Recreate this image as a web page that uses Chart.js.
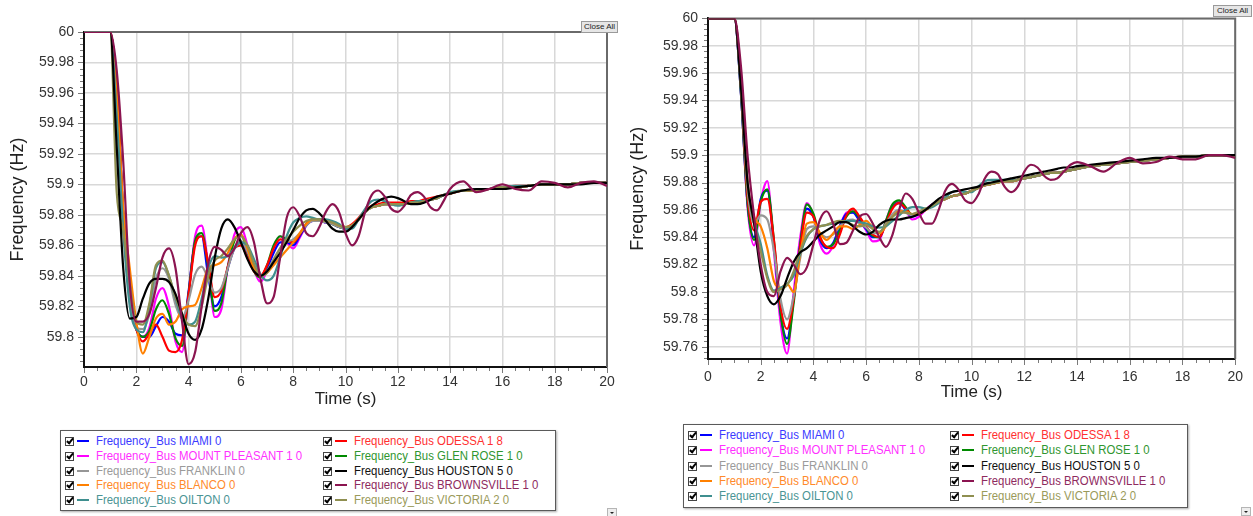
<!DOCTYPE html>
<html>
<head>
<meta charset="utf-8">
<title>Frequency_Bus</title>
<script src="https://cdn.jsdelivr.net/npm/chart.js@4.4.1/dist/chart.umd.min.js"></script>
<style>
    body { margin: 0; background: #fff; width: 1253px; height: 516px; overflow: hidden; position: relative; font-family: "Liberation Sans", Arial, sans-serif; }
    canvas { position: absolute; top: 0; }
    #leftChart { left: 0; }
    #rightChart { left: 625px; }
    .closeBtn { position: absolute; height: 10px; line-height: 10px; font-size: 8px; color: #222; background: #e6e6e6; border: 1px solid #9a9a9a; text-align: center; }
    .legend { position: absolute; border: 1px solid #5a5a5a; box-shadow: 1px 1px 2px #aaa; background: #fff; }
    .item { position: absolute; height: 14px; width: 250px; }
    .cb { position: absolute; left: 0; top: 3px; width: 7px; height: 7px; border: 1px solid #444; background: #fff; }
    .cb::after { content: ''; position: absolute; left: 2px; top: -1px; width: 2px; height: 5px; border: solid #000; border-width: 0 2px 2px 0; transform: rotate(40deg); }
    .sw { position: absolute; left: 12px; top: 6px; width: 12px; height: 2px; }
    .tx { position: absolute; left: 31px; top: 0; font-size: 12px; line-height: 14px; white-space: nowrap; transform: scaleX(0.95); transform-origin: left center; }
    .arrow { position: absolute; width: 8px; height: 7px; border: 1px solid #b5b5b5; background: #eee; }
    .arrow::after { content: ''; position: absolute; left: 2px; top: 3px; border-left: 2px solid transparent; border-right: 2px solid transparent; border-top: 2px solid #222; }
</style>
</head>
<body>
<canvas id="leftChart" width="625" height="420"></canvas>
<canvas id="rightChart" width="628" height="420"></canvas>
<div class="closeBtn" style="left:581px; top:21px; width:35px;">Close All</div>
<div class="closeBtn" style="left:1213px; top:5px; width:37px;">Close All</div>
<div class="legend" id="leftLegend" style="left:60px; top:430px; width:494px; height:79px;"></div>
<div class="legend" id="rightLegend" style="left:683px; top:424px; width:503px; height:82px;"></div>
<div class="arrow" style="left:607px; top:508px;"></div>
<div class="arrow" style="left:1241px; top:507px;"></div>

<script>
// time axis (s)
const timeS = [0, 0.75, 1, 1.25, 1.5, 1.75, 2, 2.25, 2.5, 2.75,
    3, 3.25, 3.5, 3.75, 4, 4.25, 4.5, 4.75, 5, 5.25, 5.5, 5.75, 6, 6.25, 6.5, 6.75, 7, 7.25, 7.5, 7.75,
    8, 8.25, 8.5, 8.75, 9, 9.25, 9.5, 9.75, 10, 10.25, 10.5, 10.75, 11, 11.25, 11.5, 11.75, 12, 12.25, 12.5, 12.75, 13, 13.25, 13.5, 13.75,
    14, 14.5, 15, 15.5, 16, 16.5, 17, 17.5, 18, 18.5, 19, 19.5, 20];

const xTicks = [0, 2, 4, 6, 8, 10, 12, 14, 16, 18, 20];
const yTicksLeft = [59.8, 59.82, 59.84, 59.86, 59.88, 59.9, 59.92, 59.94, 59.96, 59.98, 60];
const yTicksRight = [59.76, 59.78, 59.8, 59.82, 59.84, 59.86, 59.88, 59.9, 59.92, 59.94, 59.96, 59.98, 60];

const busNames = ['Frequency_Bus MIAMI 0', 'Frequency_Bus MOUNT PLEASANT 1 0', 'Frequency_Bus FRANKLIN 0',
    'Frequency_Bus BLANCO 0', 'Frequency_Bus OILTON 0', 'Frequency_Bus ODESSA 1 8', 'Frequency_Bus GLEN ROSE 1 0',
    'Frequency_Bus HOUSTON 5 0', 'Frequency_Bus BROWNSVILLE 1 0', 'Frequency_Bus VICTORIA 2 0'];

// ---- left case (Hz)
const leftMiami = [60, 60, 60, 59.965, 59.88, 59.825, 59.805, 59.8, 59.8, 59.807,
    59.813, 59.81, 59.802, 59.801, 59.83, 59.862, 59.866, 59.84, 59.82, 59.826, 59.845, 59.858, 59.862, 59.855, 59.844, 59.84, 59.845, 59.855, 59.862, 59.862,
    59.86, 59.866, 59.873, 59.876, 59.876, 59.875, 59.874, 59.872, 59.871, 59.873, 59.877, 59.882, 59.885, 59.886, 59.887, 59.887, 59.887, 59.887, 59.888, 59.888, 59.889, 59.89, 59.891, 59.893,
    59.894, 59.896, 59.896, 59.897, 59.898, 59.898, 59.899, 59.9, 59.9, 59.9, 59.901, 59.901, 59.901];
const leftMountPleasant = [60, 60, 60, 59.965, 59.88, 59.825, 59.805, 59.8, 59.806, 59.825,
    59.832, 59.82, 59.797, 59.79, 59.828, 59.866, 59.873, 59.847, 59.813, 59.818, 59.846, 59.867, 59.872, 59.86, 59.844, 59.836, 59.844, 59.859, 59.866, 59.862,
    59.858, 59.865, 59.873, 59.876, 59.876, 59.875, 59.874, 59.872, 59.871, 59.873, 59.877, 59.882, 59.885, 59.886, 59.887, 59.887, 59.887, 59.887, 59.888, 59.888, 59.889, 59.89, 59.891, 59.893,
    59.894, 59.896, 59.896, 59.897, 59.898, 59.898, 59.899, 59.9, 59.9, 59.9, 59.901, 59.901, 59.901];
const leftFranklin = [60, 60, 60, 59.955, 59.875, 59.825, 59.806, 59.805, 59.815, 59.838,
    59.845, 59.838, 59.821, 59.812, 59.824, 59.841, 59.846, 59.838, 59.829, 59.832, 59.845, 59.858, 59.863, 59.856, 59.846, 59.84, 59.843, 59.851, 59.858, 59.862,
    59.864, 59.868, 59.873, 59.876, 59.876, 59.875, 59.874, 59.872, 59.871, 59.873, 59.877, 59.882, 59.885, 59.886, 59.887, 59.887, 59.887, 59.887, 59.888, 59.888, 59.889, 59.89, 59.891, 59.893,
    59.894, 59.896, 59.896, 59.897, 59.898, 59.898, 59.899, 59.9, 59.9, 59.9, 59.901, 59.901, 59.901];
const leftBlanco = [60, 60, 60, 59.96, 59.885, 59.845, 59.81, 59.789, 59.8, 59.812,
    59.815, 59.808, 59.81, 59.818, 59.82, 59.821, 59.832, 59.845, 59.847, 59.849, 59.855, 59.864, 59.867, 59.858, 59.845, 59.84, 59.842, 59.847, 59.852, 59.857,
    59.862, 59.868, 59.874, 59.877, 59.877, 59.876, 59.875, 59.873, 59.872, 59.873, 59.877, 59.882, 59.885, 59.886, 59.887, 59.887, 59.887, 59.887, 59.888, 59.888, 59.889, 59.89, 59.891, 59.893,
    59.894, 59.896, 59.896, 59.897, 59.898, 59.898, 59.899, 59.9, 59.9, 59.9, 59.901, 59.901, 59.901];
const leftOilton = [60, 60, 60, 59.945, 59.87, 59.82, 59.805, 59.803, 59.82, 59.845,
    59.849, 59.84, 59.825, 59.812, 59.808, 59.81, 59.825, 59.845, 59.853, 59.852, 59.853, 59.858, 59.862, 59.86, 59.851, 59.841, 59.837, 59.84, 59.852, 59.866,
    59.875, 59.878, 59.879, 59.878, 59.877, 59.877, 59.876, 59.874, 59.871, 59.871, 59.877, 59.884, 59.889, 59.89, 59.889, 59.887, 59.886, 59.887, 59.888, 59.889, 59.889, 59.89, 59.891, 59.893,
    59.895, 59.896, 59.897, 59.897, 59.898, 59.899, 59.899, 59.9, 59.9, 59.9, 59.901, 59.901, 59.901];
const leftOdessa = [60, 60, 60, 59.965, 59.88, 59.825, 59.805, 59.797, 59.802, 59.808,
    59.8, 59.791, 59.79, 59.798, 59.828, 59.86, 59.866, 59.848, 59.826, 59.83, 59.846, 59.858, 59.86, 59.852, 59.843, 59.84, 59.847, 59.858, 59.864, 59.863,
    59.862, 59.867, 59.874, 59.877, 59.877, 59.876, 59.875, 59.873, 59.872, 59.874, 59.878, 59.883, 59.886, 59.887, 59.888, 59.888, 59.888, 59.888, 59.889, 59.889, 59.89, 59.891, 59.892, 59.893,
    59.894, 59.896, 59.897, 59.897, 59.898, 59.899, 59.899, 59.9, 59.9, 59.9, 59.901, 59.901, 59.901];
const leftGlenRose = [60, 60, 60, 59.965, 59.88, 59.825, 59.805, 59.8, 59.804, 59.818,
    59.824, 59.815, 59.799, 59.794, 59.828, 59.863, 59.868, 59.846, 59.817, 59.822, 59.846, 59.863, 59.867, 59.856, 59.843, 59.839, 59.847, 59.86, 59.866, 59.864,
    59.862, 59.867, 59.874, 59.877, 59.877, 59.876, 59.874, 59.872, 59.871, 59.873, 59.877, 59.882, 59.885, 59.886, 59.887, 59.887, 59.887, 59.887, 59.888, 59.888, 59.889, 59.89, 59.891, 59.893,
    59.894, 59.896, 59.896, 59.897, 59.898, 59.898, 59.899, 59.9, 59.9, 59.9, 59.901, 59.901, 59.901];
const leftHouston = [60, 60, 60, 59.925, 59.845, 59.812, 59.813, 59.825, 59.835, 59.838,
    59.838, 59.836, 59.828, 59.815, 59.802, 59.798, 59.805, 59.825, 59.852, 59.871, 59.877, 59.872, 59.862, 59.851, 59.843, 59.84, 59.843, 59.849, 59.855, 59.862,
    59.87, 59.878, 59.883, 59.884, 59.881, 59.876, 59.871, 59.869, 59.869, 59.872, 59.877, 59.882, 59.886, 59.889, 59.891, 59.892, 59.891, 59.889, 59.887, 59.887, 59.888, 59.89, 59.892, 59.893,
    59.894, 59.896, 59.897, 59.897, 59.897, 59.898, 59.899, 59.9, 59.9, 59.9, 59.9, 59.901, 59.901];
const leftBrownsville = [60, 60, 60, 59.975, 59.915, 59.835, 59.81, 59.81, 59.815, 59.832,
    59.852, 59.858, 59.845, 59.81, 59.782, 59.79, 59.82, 59.848, 59.859, 59.857, 59.853, 59.858, 59.868, 59.872, 59.862, 59.838, 59.822, 59.826, 59.852, 59.878,
    59.885, 59.879, 59.868, 59.866, 59.872, 59.882, 59.887, 59.882, 59.868, 59.86, 59.866, 59.882, 59.893, 59.896, 59.892, 59.884, 59.882, 59.886, 59.893, 59.895, 59.892, 59.885, 59.883, 59.889,
    59.897, 59.902, 59.895, 59.897, 59.9, 59.897, 59.896, 59.902, 59.901, 59.898, 59.901, 59.902, 59.899];
const leftVictoria = [60, 60, 60, 59.895, 59.87, 59.835, 59.81, 59.808, 59.822, 59.847,
    59.85, 59.84, 59.826, 59.815, 59.808, 59.807, 59.82, 59.84, 59.85, 59.853, 59.858, 59.864, 59.866, 59.86, 59.848, 59.84, 59.842, 59.85, 59.858, 59.864,
    59.869, 59.873, 59.876, 59.877, 59.877, 59.876, 59.875, 59.873, 59.872, 59.873, 59.877, 59.882, 59.885, 59.886, 59.887, 59.887, 59.887, 59.887, 59.888, 59.888, 59.889, 59.89, 59.891, 59.893,
    59.894, 59.896, 59.896, 59.897, 59.898, 59.898, 59.899, 59.9, 59.9, 59.9, 59.901, 59.901, 59.901];

// ---- right case (Hz)
const rightMiami = [60, 60, 60, 59.945, 59.865, 59.84, 59.868, 59.874, 59.835, 59.785,
    59.766, 59.795, 59.835, 59.861, 59.855, 59.838, 59.832, 59.836, 59.848, 59.857, 59.858, 59.852, 59.846, 59.84, 59.84, 59.851, 59.862, 59.865, 59.86, 59.855,
    59.857, 59.86, 59.863, 59.866, 59.868, 59.87, 59.871, 59.872, 59.874, 59.876, 59.878, 59.879, 59.88, 59.881, 59.881, 59.882, 59.883, 59.884, 59.885, 59.886, 59.887, 59.887, 59.888, 59.889,
    59.89, 59.892, 59.893, 59.894, 59.895, 59.896, 59.897, 59.898, 59.899, 59.899, 59.9, 59.9, 59.899];
const rightMountPleasant = [60, 60, 60, 59.945, 59.862, 59.834, 59.866, 59.881, 59.83, 59.778,
    59.755, 59.8, 59.84, 59.865, 59.856, 59.835, 59.828, 59.834, 59.848, 59.858, 59.859, 59.852, 59.845, 59.837, 59.838, 59.852, 59.864, 59.866, 59.86, 59.853,
    59.855, 59.86, 59.864, 59.866, 59.868, 59.87, 59.871, 59.872, 59.874, 59.876, 59.878, 59.879, 59.88, 59.881, 59.881, 59.882, 59.883, 59.884, 59.885, 59.886, 59.887, 59.887, 59.888, 59.889,
    59.89, 59.892, 59.893, 59.894, 59.895, 59.896, 59.897, 59.898, 59.899, 59.899, 59.9, 59.9, 59.899];
const rightFranklin = [60, 60, 60, 59.95, 59.875, 59.85, 59.856, 59.853, 59.83, 59.795,
    59.78, 59.797, 59.825, 59.846, 59.848, 59.843, 59.84, 59.842, 59.848, 59.852, 59.853, 59.85, 59.847, 59.843, 59.843, 59.85, 59.857, 59.86, 59.858, 59.856,
    59.858, 59.86, 59.863, 59.866, 59.868, 59.87, 59.871, 59.872, 59.874, 59.876, 59.878, 59.879, 59.88, 59.881, 59.881, 59.882, 59.883, 59.884, 59.885, 59.886, 59.887, 59.887, 59.888, 59.889,
    59.89, 59.892, 59.893, 59.894, 59.895, 59.896, 59.897, 59.898, 59.899, 59.899, 59.9, 59.9, 59.899];
const rightBlanco = [60, 60, 60, 59.955, 59.88, 59.855, 59.848, 59.832, 59.808, 59.803,
    59.806, 59.8, 59.828, 59.85, 59.851, 59.843, 59.838, 59.843, 59.848, 59.848, 59.846, 59.849, 59.852, 59.847, 59.843, 59.848, 59.855, 59.859, 59.859, 59.857,
    59.858, 59.86, 59.863, 59.866, 59.868, 59.87, 59.871, 59.872, 59.874, 59.876, 59.878, 59.879, 59.88, 59.881, 59.881, 59.882, 59.883, 59.884, 59.885, 59.886, 59.887, 59.887, 59.888, 59.889,
    59.89, 59.892, 59.893, 59.894, 59.895, 59.896, 59.897, 59.898, 59.899, 59.899, 59.9, 59.9, 59.899];
const rightOilton = [60, 60, 60, 59.955, 59.88, 59.852, 59.835, 59.812, 59.801, 59.803,
    59.806, 59.812, 59.828, 59.84, 59.846, 59.848, 59.849, 59.85, 59.851, 59.852, 59.852, 59.851, 59.85, 59.848, 59.847, 59.848, 59.852, 59.856, 59.86, 59.862,
    59.862, 59.861, 59.862, 59.865, 59.869, 59.873, 59.874, 59.873, 59.873, 59.877, 59.881, 59.882, 59.882, 59.882, 59.882, 59.882, 59.883, 59.884, 59.885, 59.886, 59.887, 59.887, 59.888, 59.889,
    59.89, 59.892, 59.893, 59.894, 59.895, 59.896, 59.897, 59.898, 59.899, 59.899, 59.9, 59.9, 59.899];
const rightOdessa = [60, 60, 60, 59.95, 59.87, 59.845, 59.866, 59.868, 59.838, 59.79,
    59.773, 59.795, 59.833, 59.858, 59.855, 59.84, 59.833, 59.832, 59.842, 59.856, 59.861, 59.855, 59.848, 59.842, 59.84, 59.85, 59.861, 59.865, 59.861, 59.856,
    59.857, 59.86, 59.863, 59.866, 59.868, 59.87, 59.871, 59.872, 59.874, 59.876, 59.878, 59.879, 59.88, 59.881, 59.881, 59.882, 59.883, 59.884, 59.885, 59.886, 59.887, 59.887, 59.888, 59.889,
    59.89, 59.892, 59.893, 59.894, 59.895, 59.896, 59.897, 59.898, 59.899, 59.899, 59.9, 59.9, 59.899];
const rightGlenRose = [60, 60, 60, 59.945, 59.865, 59.838, 59.866, 59.875, 59.838, 59.785,
    59.762, 59.792, 59.835, 59.864, 59.857, 59.84, 59.833, 59.835, 59.845, 59.855, 59.859, 59.854, 59.847, 59.841, 59.84, 59.852, 59.864, 59.867, 59.862, 59.856,
    59.857, 59.86, 59.863, 59.866, 59.868, 59.87, 59.871, 59.872, 59.874, 59.876, 59.878, 59.879, 59.88, 59.881, 59.881, 59.882, 59.883, 59.884, 59.885, 59.886, 59.887, 59.887, 59.888, 59.889,
    59.89, 59.892, 59.893, 59.894, 59.895, 59.896, 59.897, 59.898, 59.899, 59.899, 59.9, 59.9, 59.899];
const rightHouston = [60, 60, 60, 59.95, 59.88, 59.85, 59.815, 59.797, 59.791, 59.797,
    59.81, 59.822, 59.829, 59.832, 59.837, 59.842, 59.845, 59.848, 59.851, 59.851, 59.848, 59.844, 59.842, 59.844, 59.849, 59.852, 59.853, 59.853, 59.854, 59.855,
    59.857, 59.86, 59.864, 59.868, 59.871, 59.873, 59.874, 59.875, 59.876, 59.877, 59.879, 59.88, 59.881, 59.882, 59.883, 59.884, 59.885, 59.886, 59.887, 59.888, 59.889, 59.89, 59.891, 59.891,
    59.892, 59.893, 59.894, 59.895, 59.896, 59.897, 59.898, 59.898, 59.899, 59.899, 59.9, 59.9, 59.9];
const rightBrownsville = [60, 60, 60, 59.965, 59.9, 59.855, 59.82, 59.8, 59.797, 59.815,
    59.825, 59.82, 59.813, 59.818, 59.835, 59.853, 59.859, 59.85, 59.835, 59.836, 59.845, 59.855, 59.857, 59.85, 59.84, 59.833, 59.842, 59.86, 59.872, 59.868,
    59.858, 59.85, 59.85, 59.86, 59.874, 59.879, 59.875, 59.867, 59.865, 59.871, 59.883, 59.888, 59.886, 59.877, 59.873, 59.877, 59.888, 59.893, 59.891, 59.885, 59.882, 59.883, 59.888, 59.893,
    59.895, 59.892, 59.888, 59.894, 59.898, 59.894, 59.895, 59.899, 59.897, 59.897, 59.9, 59.9, 59.898];
const rightVictoria = [60, 60, 60, 59.955, 59.88, 59.85, 59.83, 59.81, 59.8, 59.802,
    59.805, 59.815, 59.83, 59.841, 59.846, 59.848, 59.849, 59.851, 59.852, 59.851, 59.849, 59.848, 59.849, 59.846, 59.844, 59.849, 59.855, 59.858, 59.858, 59.857,
    59.859, 59.861, 59.863, 59.866, 59.868, 59.87, 59.871, 59.872, 59.874, 59.876, 59.878, 59.879, 59.88, 59.881, 59.881, 59.882, 59.883, 59.884, 59.885, 59.886, 59.887, 59.887, 59.888, 59.889,
    59.89, 59.892, 59.893, 59.894, 59.895, 59.896, 59.897, 59.898, 59.899, 59.899, 59.9, 59.9, 59.899];

// line colours, legend text colours, draw order (0 = on top) -- same order as busNames
var lineColors = ['#0000ff', '#ff00ff', '#969696', '#ff8000', '#3f8f8f', '#ff0000', '#008a00', '#000000', '#8b1450', '#8f8f50'];
var textColors = ['#3a3aff', '#ff30ff', '#9a9a9a', '#ff8a2a', '#4a9494', '#ff3030', '#2f962f', '#111111', '#8e2a5e', '#9a9a5a'];
var drawOrder = [8, 9, 5, 4, 3, 6, 7, 1, 0, 2];

var leftSeries = [leftMiami, leftMountPleasant, leftFranklin, leftBlanco, leftOilton,
    leftOdessa, leftGlenRose, leftHouston, leftBrownsville, leftVictoria];
var rightSeries = [rightMiami, rightMountPleasant, rightFranklin, rightBlanco, rightOilton,
    rightOdessa, rightGlenRose, rightHouston, rightBrownsville, rightVictoria];

Chart.defaults.font.family = '"Liberation Sans", Arial, sans-serif';

// frame on top / right plus small tick marks outside the axes
var frameTicks = {
    id: 'frameTicks',
    beforeDatasetsDraw: function (chart) {
        var ctx = chart.ctx, a = chart.chartArea, x = chart.scales.x, y = chart.scales.y;
        ctx.save();
        ctx.strokeStyle = '#6a6a6a';
        ctx.lineWidth = 2;
        ctx.beginPath();
        ctx.moveTo(a.left, a.top);
        ctx.lineTo(a.right, a.top);
        ctx.lineTo(a.right, a.bottom);
        ctx.stroke();

        ctx.strokeStyle = '#7a7a7a';
        ctx.lineWidth = 1;
        ctx.beginPath();
        for (var i = 0; i <= 40; i++) {
            var px = Math.round(x.getPixelForValue(i * 0.5)) + 0.5;
            var len = (i % 4 === 0) ? 5 : 3;
            ctx.moveTo(px, a.bottom + 1);
            ctx.lineTo(px, a.bottom + 1 + len);
        }
        for (var j = 0; 60 - j * 0.004 >= y.min; j++) {
            var py = Math.round(y.getPixelForValue(60 - j * 0.004)) + 0.5;
            var l2 = (j % 5 === 0) ? 5 : 3;
            ctx.moveTo(a.left - 1, py);
            ctx.lineTo(a.left - 1 - l2, py);
        }
        ctx.stroke();
        ctx.restore();
    }
};

function makeChart(id, series, yTicks, cfg) {
    var datasets = series.map(function (vals, i) {
        return {
            label: busNames[i],
            data: timeS.map(function (t, k) { return { x: t, y: vals[k] }; }),
            borderColor: lineColors[i],
            borderWidth: 2.2,
            pointRadius: 0,
            cubicInterpolationMode: 'monotone',
            order: drawOrder[i]
        };
    });

    return new Chart(id, {
        type: 'line',
        data: { datasets: datasets },
        options: {
            responsive: false,
            animation: false,
            layout: { padding: { top: cfg.top, right: cfg.right, bottom: 0, left: 0 } },
            plugins: { legend: { display: false }, tooltip: { enabled: false } },
            scales: {
                x: {
                    type: 'linear',
                    min: xTicks[0],
                    max: xTicks[xTicks.length - 1],
                    afterBuildTicks: function (s) { s.ticks = xTicks.map(function (v) { return { value: v }; }); },
                    afterFit: function (s) { s.height = cfg.xHeight; },
                    ticks: { padding: cfg.xPad, color: '#333', font: { size: 14 }, maxRotation: 0 },
                    grid: { color: '#d8d8d8', lineWidth: 1.5, drawTicks: false },
                    border: { color: '#111', width: 2 },
                    title: { display: true, text: 'Time (s)', color: '#222', font: { size: 17 }, padding: { top: 0, bottom: cfg.xTitlePad } }
                },
                y: {
                    min: cfg.yMin,
                    max: 60,
                    afterBuildTicks: function (s) { s.ticks = yTicks.map(function (v) { return { value: v }; }); },
                    afterFit: function (s) { s.width = cfg.yWidth; },
                    ticks: {
                        padding: 10, color: '#333', font: { size: 14 },
                        callback: function (v) { return String(Number(v.toFixed(3))); }
                    },
                    grid: { color: '#d8d8d8', lineWidth: 1.5, drawTicks: false },
                    border: { color: '#111', width: 2 },
                    title: { display: true, text: 'Frequency (Hz)', color: '#222', font: { size: 18 }, padding: { top: cfg.yTitlePad, bottom: 0 } }
                }
            }
        },
        plugins: [frameTicks]
    });
}

makeChart('leftChart', leftSeries, yTicksLeft,
    { top: 32, right: 18, yMin: 59.7802, yWidth: 84, xHeight: 53, xPad: 7, xTitlePad: 10, yTitlePad: 7 });
makeChart('rightChart', rightSeries, yTicksRight,
    { top: 16, right: 15, yMin: 59.751, yWidth: 83, xHeight: 61, xPad: 10, xTitlePad: 17, yTitlePad: 2 });

// legends with the check boxes
function buildLegend(boxId, rowTop, rowGap, colLeft) {
    var box = document.getElementById(boxId);
    busNames.forEach(function (name, i) {
        var col = Math.floor(i / 5), row = i % 5;
        var item = document.createElement('div');
        item.className = 'item';
        item.style.left = colLeft[col] + 'px';
        item.style.top = (rowTop + row * rowGap) + 'px';
        item.innerHTML = '<span class="cb"></span><span class="sw" style="background:' + lineColors[i] +
            '"></span><span class="tx" style="color:' + textColors[i] + '">' + name + '</span>';
        box.appendChild(item);
    });
}

buildLegend('leftLegend', 3, 14.75, [4, 262]);
buildLegend('rightLegend', 3, 15.25, [4, 266]);
</script>
</body>
</html>
